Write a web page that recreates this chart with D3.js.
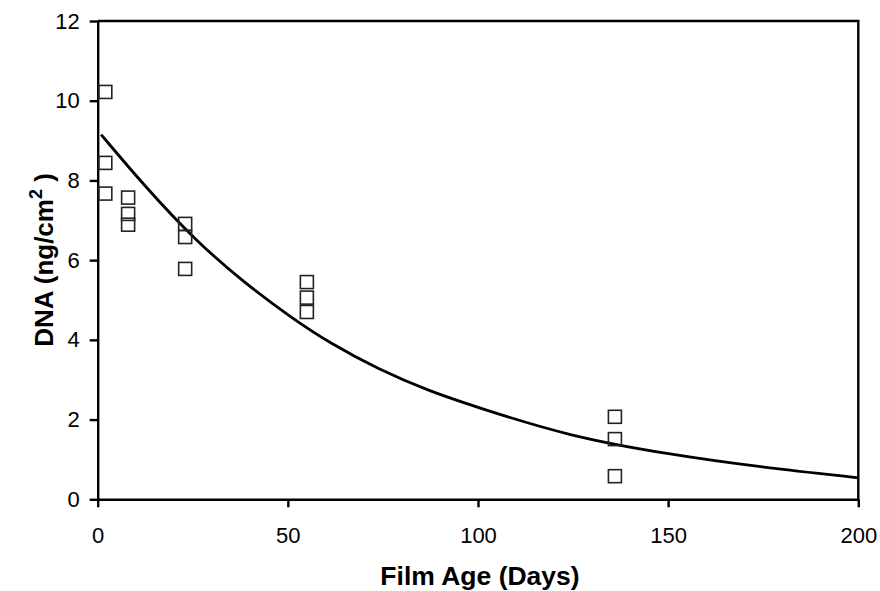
<!DOCTYPE html>
<html>
<head>
<meta charset="utf-8">
<script src="https://cdn.jsdelivr.net/npm/d3@7"></script>
<style>
body { margin: 0; background: #fff; }
svg { display: block; font-family: "Liberation Sans", Arial, sans-serif; }
</style>
</head>
<body>
<script>
// measured points: film age (days) and DNA (ng/cm2)
var days = [2, 2, 2, 8, 8, 8, 23, 23, 23, 55, 55, 55, 136, 136, 136];
var dna = [10.22, 8.44, 7.67, 7.57, 7.16, 6.89, 6.91, 6.58, 5.78, 5.45, 5.06, 4.70, 2.07, 1.51, 0.58];
// fitted decay curve
var fitDays = [0.9, 12.4, 25.6, 38.7, 51, 61, 74, 87, 100, 124, 150, 174, 200];
var fitDna = [9.15, 7.85, 6.5, 5.42, 4.55, 3.92, 3.25, 2.72, 2.3, 1.58, 1.13, 0.81, 0.54];
// tick labels
var xTicks = [0, 50, 100, 150, 200];
var yTicks = [0, 2, 4, 6, 8, 10, 12];

var width = 880, height = 591;
// plot box edges (top is taken by window.top, so use other names)
var plotL = 97.7, plotR = 858.3, plotT = 21, plotB = 499.3;

var svg = d3.select("body").append("svg")
.attr("width", width)
.attr("height", height);

var x = d3.scaleLinear().domain([0, 200]).range([plotL, plotR]);
var y = d3.scaleLinear().domain([0, 12]).range([plotB, plotT]);

// top and right frame lines
svg.append("path")
.attr("d", "M" + plotL + "," + plotT + "H" + plotR + "V" + plotB)
.attr("fill", "none")
.attr("stroke", "#000")
.attr("stroke-width", 2.4);

// y axis
var yAxis = svg.append("g")
.attr("transform", "translate(" + plotL + ",0)")
.call(d3.axisLeft(y).tickValues(yTicks).tickSize(8).tickPadding(10).tickSizeOuter(0));
// x axis
var xAxis = svg.append("g")
.attr("transform", "translate(0," + plotB + ")")
.call(d3.axisBottom(x).tickValues(xTicks).tickSize(8).tickPadding(20).tickSizeOuter(0));

[xAxis, yAxis].forEach(function(g) {
	g.attr("font-size", 22).attr("font-family", "'Liberation Sans', Arial, sans-serif");
	g.select(".domain").attr("stroke-width", 2.4);
	g.selectAll(".tick line").attr("stroke-width", 2.4);
	g.selectAll(".tick text").attr("fill", "#000");
});

// fitted curve
var line = d3.line()
.x(function(d, i) { return x(fitDays[i]); })
.y(function(d) { return y(d); })
.curve(d3.curveBasis);
svg.append("path")
.datum(fitDna)
.attr("d", line)
.attr("fill", "none")
.attr("stroke", "#000")
.attr("stroke-width", 2.8);

// open square markers
var sq = 13;
svg.selectAll("rect.pt")
.data(dna)
.enter().append("rect")
.attr("class", "pt")
.attr("x", function(d, i) { return x(days[i]) - sq / 2; })
.attr("y", function(d) { return y(d) - sq / 2; })
.attr("width", sq)
.attr("height", sq)
.attr("fill", "none")
.attr("stroke", "#222")
.attr("stroke-width", 1.6);

// axis titles
svg.append("text")
.attr("x", 480)
.attr("y", 585)
.attr("text-anchor", "middle")
.style("font-size", "26.5px")
.style("font-weight", "bold")
.text("Film Age (Days)");

var yt = svg.append("text")
.attr("transform", "translate(53,260) rotate(-90)")
.attr("text-anchor", "middle")
.style("font-size", "26px")
.style("font-weight", "bold");
yt.append("tspan").text("DNA (ng/cm");
yt.append("tspan").attr("dy", -11).style("font-size", "18px").text("2");
yt.append("tspan").attr("dy", 11).text(" )");
</script>
</body>
</html>
